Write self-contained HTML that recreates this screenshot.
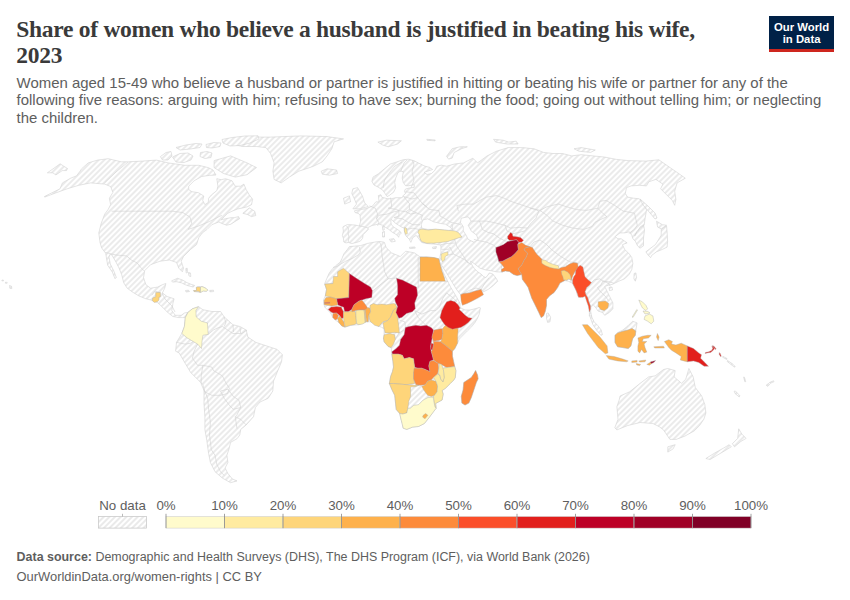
<!DOCTYPE html>
<html><head><meta charset="utf-8">
<style>
html,body{margin:0;padding:0;background:#fff;}
body{width:850px;height:600px;position:relative;overflow:hidden;font-family:"Liberation Sans",sans-serif;}
.map{position:absolute;left:0;top:0;}
.title{position:absolute;left:17px;top:14px;font-family:"Liberation Serif",serif;font-weight:bold;font-size:23.5px;line-height:26.6px;color:#3d3d3d;margin:0;width:700px;}
.sub{position:absolute;left:16.5px;top:73px;font-size:14.6px;line-height:17.4px;color:#5e5e5e;width:820px;}
.logo{position:absolute;left:769px;top:16px;width:65px;height:36px;background:#002147;color:#fff;text-align:center;font-weight:bold;font-size:11.4px;line-height:12px;}
.logo .t{position:absolute;left:0;right:0;top:5.5px;}
.logo .r{position:absolute;left:0;right:0;bottom:0;height:3px;background:#ce261e;}
.leg{position:absolute;font-size:13px;color:#5e5e5e;}
.foot{position:absolute;left:16.5px;font-size:12.6px;color:#5e5e5e;}
</style></head><body>
<svg class="map" width="850" height="600" viewBox="0 0 850 600">
<defs><pattern id="hatch" patternUnits="userSpaceOnUse" width="4" height="4" patternTransform="rotate(-45 2 2)"><rect width="4" height="4" fill="#fff"/><path d="M -1,2 l 6,0" stroke="#d9d9d9" stroke-width="1.05"/></pattern></defs>
<g fill="url(#hatch)" stroke="#d2d2d2" stroke-width="0.6" stroke-linejoin="round">
<path d="M81.6,168.8 L88.2,162.9 L97.6,160.1 L108.2,158.7 L121.2,161.8 L128.2,161.8 L142.4,161.1 L156.5,160.1 L168.2,162.9 L184.7,165.3 L198.8,165.3 L208.2,167.6 L213.0,170.0 L216.0,175.0 L209.2,175.4 L201.7,176.5 L194.1,180.8 L188.7,186.2 L188.7,189.5 L191.9,191.7 L198.4,192.7 L203.8,196.0 L202.7,200.3 L204.9,204.7 L208.2,202.5 L208.7,198.2 L211.4,194.9 L216.8,190.6 L217.9,186.2 L216.8,178.7 L221.2,179.7 L225.5,178.7 L232.0,180.8 L235.2,186.2 L240.7,186.2 L243.9,184.1 L246.1,189.5 L249.3,194.9 L252.6,199.2 L251.5,204.7 L247.2,206.8 L242.8,207.9 L237.4,209.0 L232.0,211.2 L227.7,213.3 L224.4,216.6 L221.2,219.8 L225.5,218.7 L230.9,217.7 L234.2,217.7 L238.5,216.6 L239.6,218.7 L235.0,221.5 L230.9,224.2 L226.6,225.2 L222.0,223.5 L218.8,222.0 L211.8,224.7 L207.1,229.4 L202.4,232.9 L198.8,237.6 L196.5,244.7 L190.6,249.4 L183.5,256.5 L181.2,261.2 L183.5,268.2 L182.4,271.8 L178.8,268.2 L176.5,262.4 L169.4,260.0 L160.0,261.2 L150.6,264.7 L144.7,270.6 L143.5,277.6 L145.9,284.7 L150.6,288.2 L157.6,287.1 L162.4,284.7 L165.9,283.5 L164.7,288.2 L162.4,292.9 L167.1,296.5 L174.1,298.8 L172.9,303.5 L171.8,310.6 L175.3,315.3 L181.2,315.3 L184.7,312.9 L187.9,312.4 L185.3,317.6 L182.6,317.6 L178.8,317.6 L172.9,316.5 L168.2,312.9 L162.4,307.1 L157.7,302.7 L151.0,300.0 L145.7,298.7 L139.0,296.0 L132.4,292.0 L127.0,288.0 L123.7,282.7 L121.7,274.7 L119.0,268.0 L116.3,262.7 L111.7,254.7 L109.7,254.7 L109.0,257.3 L110.3,264.0 L113.7,270.7 L116.3,277.4 L115.0,278.7 L112.3,272.0 L107.7,265.3 L105.7,253.3 L101.7,248.0 L100.0,242.4 L98.8,232.9 L101.2,223.5 L104.7,214.1 L108.2,209.4 L110.6,204.7 L109.4,198.2 L112.9,192.4 L110.6,186.5 L104.7,184.1 L90.6,182.9 L78.8,185.3 L67.1,188.8 L55.3,193.1 L44.7,197.1 L44.5,196.5 L60.0,188.8 L62.4,182.9 L70.6,178.2 L76.5,175.9 L80.0,171.2Z"/>
<path d="M225.9,140.6 L247.1,137.1 L270.6,137.1 L301.2,135.9 L327.1,136.6 L343.5,138.9 L334.1,141.8 L331.8,148.8 L327.1,155.9 L322.4,161.8 L312.9,166.5 L298.8,171.2 L289.4,177.1 L281.2,182.9 L274.1,179.4 L272.9,171.2 L274.1,162.9 L270.6,153.5 L265.9,147.6 L256.5,146.5 L242.4,146.5 L232.9,144.1Z"/>
<path d="M321.2,171.2 L327.1,168.8 L336.5,170.0 L337.6,173.5 L329.4,175.2 L322.4,174.2Z"/>
<path d="M214.1,160.6 L230.6,155.9 L247.1,162.9 L256.5,167.6 L247.1,174.7 L235.3,177.1 L223.5,173.5 L214.1,167.6Z"/>
<path d="M242.8,213.3 L249.3,207.9 L254.7,211.2 L255.8,215.5 L251.5,216.6 L247.2,214.4Z"/>
<path d="M171.7,280.8 L177.5,278.3 L182.5,280.0 L186.7,282.5 L190.8,284.2 L194.6,285.4 L193.3,287.1 L188.3,285.8 L185.0,284.6 L181.7,282.9 L176.7,281.7 L172.5,282.1Z"/>
<path d="M198.5,306.7 L202.9,309.7 L211.8,311.5 L220.6,311.5 L224.1,316.8 L232.9,324.7 L240.0,326.5 L246.2,330.0 L247.9,337.1 L255.9,342.4 L266.5,345.9 L277.1,349.4 L282.4,354.7 L281.5,361.8 L277.1,372.4 L273.5,381.2 L272.8,391.0 L268.2,398.3 L260.0,402.0 L255.4,407.5 L253.5,416.7 L246.2,424.9 L240.7,429.5 L239.8,435.0 L237.0,438.7 L230.6,442.4 L228.8,449.7 L226.9,455.2 L227.9,462.5 L225.1,468.0 L227.9,473.5 L232.4,479.0 L237.0,480.9 L230.6,482.7 L222.4,478.1 L215.0,471.7 L210.4,462.5 L208.6,453.4 L206.8,440.5 L204.9,429.5 L204.9,416.7 L204.0,403.8 L204.0,389.2 L202.9,384.7 L197.6,379.4 L190.6,372.4 L185.3,363.5 L179.1,352.9 L175.6,351.2 L176.5,342.4 L181.8,333.5 L184.4,326.5 L185.3,317.6 L187.9,312.4 L192.4,308.8Z"/>
<path d="M193.5,290.6 L196.6,290.4 L196.3,287.4 L197.7,286.9 L201.9,286.5 L204.1,287.4 L206.2,288.5 L207.8,290.2 L206.2,291.3 L203.4,290.9 L200.5,292.4 L194.2,291.6Z"/>
<path d="M343.5,198.2 L349.4,195.9 L350.6,201.8 L344.7,204.1Z"/>
<path d="M352.9,188.8 L357.6,187.6 L362.4,195.9 L364.7,202.9 L368.2,206.5 L360.0,208.8 L352.9,208.8 L356.5,204.1 L354.1,198.2 L351.8,193.5Z"/>
<path d="M351.2,243.4 L348.4,242.4 L346.1,242.9 L343.8,242.0 L343.4,238.3 L342.4,235.6 L343.4,231.0 L342.9,227.3 L343.4,226.4 L347.5,224.6 L354.8,225.0 L359.4,226.0 L360.6,221.2 L360.0,215.3 L358.5,213.5 L355.0,212.5 L354.5,210.8 L358.2,210.0 L365.3,208.8 L372.4,206.2 L375.9,201.8 L379.0,202.0 L378.4,195.5 L381.0,194.8 L382.0,197.5 L383.8,197.7 L387.1,198.7 L391.4,198.7 L395.7,197.7 L402.2,197.7 L403.3,195.5 L405.5,193.3 L404.4,191.2 L405.5,189.0 L409.8,187.9 L414.2,187.4 L414.2,184.7 L408.7,185.7 L405.5,185.7 L403.3,182.5 L402.2,178.2 L403.3,171.7 L400.5,171.0 L397.9,172.7 L395.7,178.2 L394.7,182.5 L395.7,187.9 L393.6,192.2 L389.2,195.5 L387.1,196.6 L384.9,193.3 L382.7,190.1 L378.0,187.0 L374.0,185.0 L371.9,181.4 L373.0,177.1 L378.4,173.8 L384.9,168.4 L390.3,164.1 L396.8,161.9 L403.3,159.7 L408.7,159.2 L414.2,160.8 L418.5,163.0 L425.0,166.2 L429.3,167.3 L432.6,169.5 L428.0,171.0 L424.0,172.5 L427.1,174.5 L431.5,173.5 L434.7,170.6 L436.9,166.2 L441.2,165.2 L446.6,166.2 L454.1,164.1 L463.5,162.9 L472.9,158.2 L477.6,162.9 L487.1,155.9 L496.5,151.2 L508.2,147.6 L522.4,147.6 L534.1,148.8 L543.5,152.4 L552.9,153.5 L562.4,153.5 L571.8,155.9 L581.2,154.7 L592.9,155.9 L604.7,157.1 L616.5,159.4 L628.2,160.6 L645.9,161.1 L658.8,159.8 L671.8,168.8 L677.1,172.4 L685.3,178.2 L677.1,182.9 L674.7,191.2 L675.9,199.4 L674.7,205.3 L672.4,200.6 L665.3,193.5 L660.6,188.8 L662.9,184.1 L659.4,181.8 L655.9,179.4 L648.8,181.8 L646.5,185.9 L639.4,185.3 L631.2,185.9 L626.5,187.6 L625.3,193.5 L627.6,197.1 L633.5,198.2 L639.4,198.8 L644.1,204.1 L646.5,210.0 L645.3,217.1 L644.1,225.3 L640.6,227.6 L637.1,231.2 L634.7,235.9 L636.0,233.0 L637.6,231.8 L640.0,227.1 L643.5,224.7 L644.5,230.0 L643.5,238.0 L643.5,245.9 L640.0,248.2 L637.6,245.9 L635.3,241.2 L632.9,238.8 L631.8,235.3 L629.4,231.8 L624.7,232.9 L620.0,232.9 L615.3,236.5 L617.6,238.8 L621.2,238.8 L624.7,241.2 L627.1,242.9 L622.4,244.7 L624.7,249.4 L629.4,254.1 L631.8,257.6 L632.9,263.5 L631.8,269.4 L629.4,274.1 L624.7,278.8 L618.8,281.2 L612.9,284.1 L608.2,285.3 L604.7,286.5 L609.4,295.9 L612.9,302.9 L612.9,308.8 L609.4,312.4 L604.7,315.3 L602.4,312.4 L598.0,311.0 L596.0,308.0 L593.0,304.5 L591.0,307.6 L590.6,311.0 L591.8,317.1 L594.1,321.8 L597.6,325.3 L601.2,330.0 L602.4,334.7 L600.9,335.3 L596.5,330.0 L592.9,324.7 L589.4,315.0 L589.4,310.0 L590.0,305.0 L588.2,300.0 L586.0,293.0 L584.7,291.8 L585.9,288.2 L580.6,297.6 L577.6,295.9 L576.5,291.2 L574.1,286.5 L572.4,282.9 L571.8,282.9 L568.2,281.2 L564.7,280.6 L560.0,282.9 L557.6,287.6 L554.1,292.4 L549.4,295.9 L546.5,299.4 L546.5,305.3 L545.3,311.2 L543.5,315.9 L541.2,317.6 L538.8,312.4 L535.3,305.3 L531.8,298.2 L529.4,291.2 L528.2,287.6 L525.9,284.1 L522.4,279.4 L521.8,274.4 L517.1,275.6 L513.5,274.4 L509.4,271.5 L505.3,270.9 L501.8,272.1 L496.5,271.8 L490.6,270.6 L485.9,270.0 L480.0,268.2 L474.1,263.5 L470.6,261.2 L471.8,264.7 L474.1,268.2 L477.6,271.8 L481.2,274.1 L483.5,276.5 L485.9,277.6 L487.6,275.3 L489.4,272.9 L492.9,274.1 L496.5,278.8 L497.6,281.2 L492.9,285.9 L488.2,289.4 L483.5,291.8 L481.2,289.4 L476.0,291.0 L469.4,292.9 L463.5,293.5 L460.6,294.7 L456.5,289.4 L452.9,283.5 L449.4,277.6 L445.9,271.8 L441.2,264.7 L439.4,261.2 L440.0,256.5 L440.9,252.9 L440.9,245.0 L433.8,244.1 L426.0,243.5 L421.5,242.4 L416.2,235.3 L412.6,237.9 L410.9,242.4 L409.3,239.3 L406.0,236.0 L405.3,234.7 L404.0,228.0 L402.0,227.3 L398.7,225.3 L394.7,222.7 L392.0,219.8 L391.0,219.8 L390.7,220.5 L391.3,224.7 L394.0,227.3 L397.3,229.3 L400.0,231.3 L401.3,233.3 L399.3,234.7 L398.7,237.3 L398.0,236.0 L395.3,234.0 L392.0,232.0 L388.7,229.3 L385.3,227.3 L382.7,225.3 L378.7,224.0 L375.6,224.7 L372.0,225.5 L369.0,227.0 L367.6,227.8 L368.6,229.2 L365.8,231.9 L363.1,234.7 L362.6,238.3 L360.3,241.1 L356.7,242.4 L352.0,243.5Z"/>
<path d="M389.3,239.3 L394.0,238.7 L395.3,241.3 L391.3,242.0Z"/>
<path d="M382.5,232.0 L384.5,231.5 L384.5,237.0 L382.5,237.0Z"/>
<path d="M640.0,199.0 L648.0,206.0 L655.0,213.0 L657.0,218.0 L655.0,219.0 L650.0,213.0 L643.0,205.0Z"/>
<path d="M645.9,251.8 L650.6,248.2 L655.3,244.7 L657.6,241.2 L661.2,235.3 L661.2,229.4 L664.7,227.1 L666.5,225.9 L667.1,231.8 L667.6,241.2 L667.1,247.1 L662.4,249.4 L656.5,251.8 L651.8,255.3 L650.6,257.6 L648.2,255.3Z"/>
<path d="M656.5,221.2 L662.4,224.7 L666.5,225.3 L661.2,228.8 L657.6,227.1Z"/>
<path d="M634.1,273.5 L635.9,272.9 L636.5,277.6 L635.3,281.2 L633.9,278.8Z"/>
<path d="M609.0,287.5 L612.0,287.0 L612.5,290.0 L609.5,290.5Z"/>
<path d="M546.5,313.5 L548.2,312.9 L550.6,317.1 L550.0,321.8 L547.6,322.4 L546.5,318.2Z"/>
<path d="M446.6,156.2 L452.2,148.7 L459.8,146.8 L467.3,146.8 L461.6,148.7 L454.1,152.5 L452.2,158.1 L448.5,159.1Z"/>
<path d="M574.1,148.8 L581.2,147.6 L595.3,150.0 L590.6,152.4 L578.8,151.2Z"/>
<path d="M493.6,139.3 L503.1,140.2 L508.7,142.1 L516.2,141.2 L518.1,144.0 L506.8,144.0 L495.5,142.1Z"/>
<path d="M615.0,335.3 L617.6,332.6 L622.9,330.0 L628.2,325.6 L632.6,321.2 L637.1,322.9 L636.2,328.2 L635.3,335.3 L632.6,338.8 L630.9,345.9 L628.2,348.5 L622.9,347.6 L617.6,346.8 L615.0,342.4Z"/>
<path d="M620.1,396.0 L629.6,391.8 L640.2,383.3 L648.7,376.9 L655.1,375.9 L663.5,369.5 L667.8,368.5 L675.2,370.6 L674.1,376.9 L681.5,383.3 L685.8,379.1 L688.9,368.5 L693.2,376.9 L695.3,387.5 L701.7,396.0 L704.8,404.5 L705.9,412.9 L703.8,419.3 L699.5,425.6 L694.2,430.9 L684.7,436.2 L676.2,439.4 L669.9,439.4 L663.5,429.9 L659.3,426.7 L652.9,423.5 L640.2,422.5 L627.5,425.6 L616.9,429.9 L614.8,427.8 L618.0,419.3 L616.9,406.6 L619.1,400.2Z"/>
<path d="M667.8,446.8 L675.2,444.7 L673.1,448.9 L667.8,452.1Z"/>
<path d="M738.7,428.8 L741.9,434.1 L746.1,438.4 L740.8,441.5 L734.5,446.8 L732.4,443.7 L737.7,438.4Z"/>
<path d="M729.2,444.7 L731.3,446.8 L720.7,453.2 L710.1,459.5 L705.9,458.5 L714.4,453.2 L723.9,447.9Z"/>
<path d="M349.3,246.6 L354.8,246.1 L360.3,245.7 L367.6,243.4 L375.0,242.0 L379.6,241.5 L383.2,242.0 L384.4,242.4 L386.2,247.6 L391.5,252.9 L400.3,256.5 L405.6,251.2 L414.4,252.9 L420.0,256.8 L426.8,256.8 L434.1,257.6 L438.8,258.8 L435.3,261.8 L440.0,263.5 L443.5,272.9 L447.1,280.0 L450.6,287.1 L454.1,292.9 L457.6,298.8 L460.0,303.5 L460.0,307.5 L465.0,310.0 L470.0,310.0 L475.0,308.8 L479.2,307.5 L480.4,307.9 L480.0,310.0 L479.2,314.2 L477.5,318.3 L475.0,322.5 L471.7,326.7 L467.5,330.8 L463.3,335.0 L459.2,339.2 L457.6,342.9 L454.7,348.8 L452.4,351.2 L452.4,355.9 L453.5,361.2 L454.7,366.5 L455.9,370.6 L455.3,377.6 L453.8,380.0 L450.3,383.5 L445.6,388.2 L442.1,390.6 L443.2,394.1 L442.1,400.0 L435.6,403.5 L436.2,408.2 L432.6,412.9 L429.1,417.6 L424.4,423.5 L418.5,426.5 L412.6,427.1 L406.8,429.4 L403.2,428.2 L402.1,423.5 L400.9,418.8 L399.7,413.5 L396.2,409.4 L394.7,395.3 L391.8,389.4 L389.4,383.5 L390.6,376.5 L392.4,371.8 L393.5,367.1 L392.9,361.2 L391.8,353.5 L391.2,347.6 L388.2,346.5 L384.1,341.8 L383.5,338.2 L384.1,334.7 L384.1,328.8 L381.2,327.1 L377.6,325.9 L374.1,322.4 L370.6,321.8 L365.9,321.8 L358.8,324.7 L350.6,325.3 L344.7,327.1 L341.8,325.9 L338.8,322.4 L335.3,320.0 L332.9,317.6 L330.6,313.0 L328.2,310.6 L324.7,307.1 L324.1,304.7 L323.5,300.0 L325.3,295.9 L326.5,289.4 L324.7,284.1 L324.7,283.5 L329.2,273.1 L331.9,269.5 L335.6,265.8 L340.2,262.1 L342.0,258.5 L343.8,253.9 L347.5,249.3Z"/>
<path d="M475.6,370.6 L477.5,375.0 L478.1,378.8 L476.3,382.5 L473.8,390.0 L471.3,397.5 L468.8,403.1 L465.0,405.0 L461.9,403.1 L461.3,396.3 L463.1,390.0 L463.8,382.5 L467.5,380.0 L471.3,377.5 L473.8,373.8Z"/>
<path d="M47.4,172.8 L52.7,169.1 L60.1,163.8 L63.3,165.9 L67.5,168.5 L66.5,170.6 L62.2,170.6 L59.1,172.8 L55.9,174.9 L52.7,172.8Z"/>
<path d="M185.5,290.5 L188.5,290.2 L189.5,291.5 L186.0,292.0Z"/>
<path d="M209.7,290.4 L213.5,290.2 L213.6,291.6 L209.9,291.8Z"/>
<path d="M722.9,356.4 L727.0,358.5 L726.8,359.5 L722.7,357.3Z"/>
<path d="M727.5,360.5 L732.0,363.5 L735.2,366.5 L734.6,367.2 L731.0,364.5 L727.2,361.5Z"/>
<path d="M743.6,377.0 L744.4,377.2 L745.7,381.6 L744.9,381.9Z"/>
<path d="M734.2,391.2 L735.4,391.0 L739.9,395.8 L739.2,396.9 L735.0,393.5Z"/>
<path d="M766.3,385.0 L768.5,383.5 L769.6,384.6 L767.5,386.4Z"/>
<path d="M769.5,382.5 L773.6,380.8 L774.0,381.7 L770.0,383.4Z"/>
<path d="M9.5,285.5 L11.5,286.2 L11.8,288.6 L9.8,288.3Z"/>
<path d="M5.5,282.2 L7.2,282.4 L7.1,283.3 L5.4,283.2Z"/>
<path d="M2.0,280.0 L3.5,280.2 L3.4,281.0 L1.9,280.8Z"/>
<path d="M377.9,142.1 L386.4,140.2 L401.4,140.8 L397.6,144.0 L388.2,146.8 L382.6,145.0Z"/>
<path d="M426.8,139.3 L435.3,140.0 L435.0,140.8 L427.0,140.3Z"/>
<path d="M185.8,268.5 L187.2,268.3 L187.5,272.5 L186.2,273.0Z"/>
<path d="M188.5,272.5 L190.5,273.0 L190.8,276.5 L189.0,276.0Z"/>
<path d="M409.5,247.3 L415.0,247.0 L415.2,248.2 L409.6,248.4Z"/>
<path d="M432.5,247.2 L436.5,246.6 L436.0,248.5 L432.8,248.6Z"/>
<path d="M382.4,226.5 L383.9,226.0 L384.2,230.0 L382.8,230.3Z"/>
<path d="M160.4,156.6 L166.0,152.5 L171.0,151.5 L172.0,156.0 L168.0,160.0 L162.5,160.0Z"/>
<path d="M172.5,157.0 L180.0,153.5 L188.0,153.0 L193.0,156.0 L191.0,160.0 L184.0,162.5 L176.0,162.0Z"/>
<path d="M176.0,147.5 L186.0,145.0 L196.0,143.5 L202.0,144.0 L200.0,147.5 L190.0,149.0 L180.0,150.0Z"/>
<path d="M206.0,144.5 L214.0,142.5 L221.0,143.0 L220.0,146.5 L212.0,148.0 L206.5,147.5Z"/>
<path d="M222.0,139.5 L232.0,137.5 L245.0,136.0 L258.0,135.8 L259.0,139.0 L250.0,143.0 L240.0,145.5 L230.0,146.0 L223.0,143.0Z"/>
<path d="M200.5,152.5 L207.0,151.5 L212.0,153.0 L211.0,157.5 L205.0,158.5 L200.0,156.5Z"/>
</g>
<g fill="#fff" stroke="#d2d2d2" stroke-width="0.6">
<path d="M422.9,220.0 L427.6,218.8 L433.5,221.8 L440.6,223.5 L445.3,224.1 L450.0,227.1 L452.4,229.4 L448.8,230.6 L442.9,230.0 L435.9,229.4 L427.6,229.4 L421.8,228.2 L421.2,224.7Z"/>
<path d="M461.2,218.2 L468.2,216.8 L471.1,221.1 L468.2,225.3 L471.1,230.9 L476.7,235.2 L478.1,239.4 L473.9,242.2 L468.2,239.4 L466.1,235.2 L463.3,230.9 L463.3,226.7 L460.5,222.5Z"/>
</g>
<g fill="none" stroke="#d2d2d2" stroke-width="0.6">
<path d="M111.5,211.2 L135.3,211.2 L152.9,211.2 L172.4,211.2 L182.9,212.6 L190.0,217.1 L191.8,223.2 L188.2,229.4 L198.8,225.9 L209.4,221.5 L216.5,217.9 L221.8,215.3"/>
<path d="M127.9,162.1 L116.0,172.0 L104.6,182.8"/>
<path d="M105.3,252.4 L115.9,255.0 L126.5,255.9 L131.8,260.3 L137.1,262.9 L140.6,267.3 L144.1,270.9"/>
<path d="M151.8,295.3 L155.0,291.0 L160.0,292.9"/>
<path d="M162.0,293.0 L165.0,299.0 L168.0,302.0 L172.0,306.0 L175.0,312.0"/>
<path d="M208.2,334.4 L213.5,330.0 L217.0,328.2 L222.4,326.5 L227.6,330.0 L232.9,333.5 L241.8,333.5 L247.0,330.0"/>
<path d="M224.1,316.8 L225.9,322.9 L224.1,326.5"/>
<path d="M233.0,325.0 L233.5,332.0"/>
<path d="M240.0,327.0 L240.5,333.0"/>
<path d="M176.5,342.4 L185.3,344.1 L190.6,343.2 L193.2,341.5"/>
<path d="M197.6,344.1 L194.1,351.2 L192.4,358.2 L197.6,365.3 L202.9,365.3"/>
<path d="M202.9,365.3 L211.8,367.1 L213.5,370.6 L222.4,375.9 L225.9,382.9 L229.4,388.2 L227.6,393.5 L220.6,395.3 L211.8,395.3 L204.7,391.8 L201.2,384.0 L201.2,375.9 L202.9,365.3"/>
<path d="M204.0,389.2 L207.7,398.3 L208.6,409.3 L210.4,422.2 L209.5,435.0 L211.3,449.7 L215.0,455.2 L216.8,464.4 L220.5,471.7 L224.2,475.4"/>
<path d="M220.5,391.0 L227.9,389.2 L233.4,396.5 L238.9,400.2 L240.7,407.5 L233.4,409.3 L229.7,405.7 L224.2,398.3 L220.5,391.0"/>
<path d="M235.2,416.7 L240.7,419.4 L246.2,424.9"/>
<path d="M240.7,407.5 L237.0,414.8 L235.2,416.7 L237.0,428.6"/>
<path d="M359.4,226.0 L363.0,226.5 L367.6,227.8"/>
<path d="M346.5,226.0 L348.5,228.5 L348.0,233.0 L349.0,237.0 L348.2,242.2"/>
<path d="M369.4,205.9 L375.3,208.2 L377.6,214.1 L376.5,218.8 L378.8,222.4 L377.6,225.9"/>
<path d="M390.6,197.6 L391.8,207.1 L388.2,208.2"/>
<path d="M376.5,218.8 L378.8,215.3 L387.1,214.1 L394.1,211.8 L398.8,210.6 L405.9,211.8"/>
<path d="M388.2,208.2 L396.5,209.4 L398.8,210.6"/>
<path d="M403.5,196.5 L409.4,203.5 L409.4,209.4 L405.9,211.8"/>
<path d="M405.9,191.8 L414.1,192.9 L417.6,197.6 L422.4,203.5 L427.1,207.1"/>
<path d="M422.4,203.5 L429.4,209.4 L438.8,210.6 L440.0,216.0 L444.2,218.2"/>
<path d="M403.5,196.5 L412.0,199.0 L417.6,197.6"/>
<path d="M409.4,209.4 L416.5,212.9 L422.4,215.3 L421.2,220.0"/>
<path d="M405.9,211.8 L410.6,214.1 L416.5,212.9"/>
<path d="M394.1,217.6 L402.4,218.8 L408.2,222.4 L412.9,224.7 L420.0,224.7"/>
<path d="M398.8,210.6 L399.0,216.0 L394.1,217.6"/>
<path d="M405.9,229.4 L412.9,228.2 L418.8,229.4"/>
<path d="M383.0,188.0 L384.5,180.0 L390.0,172.0 L395.0,166.0 L402.0,162.0"/>
<path d="M400.6,171.8 L404.0,163.0 L407.0,160.0"/>
<path d="M411.2,187.6 L414.0,180.0 L412.0,172.0 L414.0,164.0 L412.0,160.0"/>
<path d="M444.2,218.2 L451.3,222.5 L458.4,223.9 L461.0,225.0"/>
<path d="M452.0,224.0 L452.5,229.5"/>
<path d="M359.4,247.0 L360.3,252.1 L358.5,254.8 L352.1,258.5 L345.7,261.2 L340.0,264.5 L337.1,266.5"/>
<path d="M337.1,266.5 L333.0,267.5"/>
<path d="M372.4,291.2 L381.2,284.1 L388.2,278.8"/>
<path d="M379.4,241.8 L381.2,245.3 L382.1,255.9 L384.7,271.8 L388.2,278.8 L397.1,277.9"/>
<path d="M418.2,256.8 L418.2,282.4 L418.2,287.6"/>
<path d="M414.7,310.6 L421.8,314.1 L430.6,310.6 L435.9,310.6 L439.4,307.1"/>
<path d="M439.4,307.1 L442.9,298.2 L446.5,292.9"/>
<path d="M445.3,281.2 L448.0,281.5"/>
<path d="M414.7,310.6 L418.2,317.6 L425.3,324.7"/>
<path d="M399.4,320.0 L405.0,322.0 L405.3,327.6"/>
<path d="M395.3,339.4 L399.0,333.0 L404.0,330.0"/>
<path d="M446.5,292.9 L453.5,298.2 L457.0,302.0"/>
<path d="M460.0,307.5 L461.0,309.0"/>
<path d="M332.9,283.5 L327.0,284.0"/>
<path d="M442.9,255.9 L453.5,254.1 L464.1,259.4 L471.2,264.7"/>
<path d="M441.4,249.3 L448.5,249.3 L450.0,247.1 L453.5,254.1"/>
<path d="M440.6,244.7 L447.0,243.5 L455.0,243.0"/>
<path d="M448.5,232.4 L454.1,238.0 L456.9,246.5 L462.6,254.9 L468.2,263.4"/>
<path d="M495.9,247.4 L496.5,252.9 L498.8,261.5 L501.2,263.8 L501.8,272.1"/>
<path d="M461.0,294.7 L470.0,290.0 L476.0,288.0 L481.2,289.4"/>
<path d="M481.2,289.4 L485.0,283.0 L489.0,278.0"/>
<path d="M458.4,211.2 L456.9,205.5 L465.4,204.1 L473.9,204.1 L480.9,199.9 L486.6,197.1 L496.5,195.6 L504.9,198.5 L510.6,201.3 L519.1,204.1 L527.5,206.9 L536.0,209.8 L538.8,211.2"/>
<path d="M538.8,211.2 L536.0,218.2 L530.4,223.9 L527.5,228.1"/>
<path d="M527.5,228.1 L519.1,227.4 L510.6,228.1 L504.9,225.3 L499.3,223.9 L493.6,222.5 L486.6,221.1 L479.5,221.1 L471.1,221.1"/>
<path d="M479.5,221.1 L482.4,229.5 L488.0,232.4 L493.6,233.8 L499.3,238.0 L504.9,240.8 L507.6,241.5"/>
<path d="M473.9,239.4 L479.5,240.8 L486.6,242.2 L493.6,245.1 L496.5,247.9"/>
<path d="M527.5,228.1 L524.7,230.9 L519.1,232.4 L512.4,233.8"/>
<path d="M504.9,225.3 L507.0,231.0 L510.6,232.6"/>
<path d="M539.9,210.4 L546.9,206.8 L558.2,204.0 L566.7,206.8 L576.6,209.6 L586.5,210.4 L597.8,208.2 L599.2,209.6 L603.4,213.9 L606.9,216.7 L600.6,219.5 L594.9,222.4 L592.1,226.6 L583.6,229.4 L572.4,228.0 L562.5,225.2 L552.6,220.9 L546.9,215.3 L539.9,210.4"/>
<path d="M597.8,208.2 L599.9,201.2 L606.2,200.5 L614.7,205.4 L623.2,211.1 L634.5,213.2 L635.9,219.5 L637.3,225.2 L634.5,229.4 L628.8,233.6"/>
<path d="M530.0,208.2 L537.1,209.6 L539.9,210.4"/>
<path d="M591.5,282.6 L594.3,279.9 L599.7,278.8 L602.9,281.0 L600.8,285.3 L597.5,287.5 L599.7,290.8 L602.9,294.0 L606.2,297.3 L608.3,300.5"/>
<path d="M602.9,281.0 L608.3,283.2 L610.5,286.4"/>
<path d="M602.9,281.0 L610.5,282.1 L613.8,283.2"/>
<path d="M588.8,315.7 L592.0,316.0"/>
<path d="M530.0,246.8 L534.0,242.0 L540.0,240.0 L546.0,244.0 L552.0,250.0 L560.0,256.0 L570.0,262.0 L576.9,262.6"/>
<path d="M566.0,266.0 L570.0,264.5"/>
<path d="M687.3,345.9 L687.3,361.8"/>
<path d="M617.6,333.0 L622.0,331.5 L628.0,330.0 L632.0,328.5 L635.8,331.0"/>
</g>
<g stroke="#aaa" stroke-width="0.4" stroke-linejoin="round">
<path fill="#fffbcc" d="M198.5,306.7 L195.9,310.6 L196.2,316.8 L201.2,321.2 L207.4,322.9 L207.9,329.1 L208.2,334.4 L202.9,335.3 L202.1,340.6 L201.5,348.5 L197.6,344.1 L193.2,341.5 L187.1,337.9 L181.8,333.5 L184.4,326.5 L185.3,317.6 L187.9,312.4 L192.4,308.8Z"/>
<path fill="#fed57a" d="M155.7,292.4 L160.4,292.4 L160.4,296.7 L158.8,297.4 L159.0,300.0 L157.7,301.6 L154.4,302.4 L152.4,300.7 L152.6,298.0 L154.8,297.1 L155.7,296.7Z"/>
<path fill="#fed57a" d="M193.5,290.6 L196.6,290.4 L196.3,287.4 L197.7,286.9 L200.5,287.2 L200.2,292.4 L198.4,291.3 L194.2,291.6Z"/>
<path fill="#ffeba0" d="M418.8,230.0 L421.5,229.1 L428.5,230.0 L435.6,229.1 L444.4,230.0 L455.0,230.9 L458.5,232.6 L462.0,237.1 L458.5,237.9 L453.2,239.7 L447.9,241.5 L440.9,242.4 L433.8,243.2 L426.8,243.2 L421.5,241.5 L419.7,237.9 L419.3,234.4 L417.9,232.6Z"/>
<path fill="#ffeba0" d="M404.7,227.4 L406.5,228.2 L407.4,233.5 L405.6,234.4 L404.3,230.9Z"/>
<path fill="#feb14c" d="M420.0,257.1 L427.1,257.1 L434.1,257.6 L438.8,258.8 L440.0,263.5 L441.8,270.6 L443.5,275.3 L445.3,281.2 L420.0,281.2Z"/>
<path fill="#ffeba0" d="M441.2,254.1 L443.5,252.9 L447.6,251.8 L448.2,254.7 L445.3,256.5 L444.7,260.0 L442.4,261.8 L441.2,258.8Z"/>
<path fill="#fd8b3b" d="M460.6,294.7 L463.5,293.5 L469.4,292.9 L474.1,291.2 L481.2,289.4 L483.5,294.7 L478.8,297.6 L471.8,301.2 L467.1,303.5 L462.4,305.3 L461.2,301.2Z"/>
<path fill="#fed57a" d="M337.6,271.8 L343.5,268.2 L349.4,273.5 L348.8,297.6 L336.5,298.8 L330.6,297.1 L325.3,295.9 L326.5,289.4 L324.7,284.1 L332.9,283.5 L333.5,276.5 L337.6,276.5Z"/>
<path fill="#bd0026" d="M349.4,273.5 L355.3,277.6 L364.7,283.5 L370.6,287.1 L372.4,290.6 L371.8,297.6 L365.9,298.8 L362.4,300.0 L358.8,301.2 L354.1,304.7 L351.8,309.4 L348.2,311.8 L344.7,311.8 L343.5,307.1 L341.2,306.5 L337.6,304.7 L336.5,298.8 L348.8,297.6Z"/>
<path fill="#feb14c" d="M324.1,300.6 L325.9,297.6 L330.6,297.1 L336.5,298.8 L337.6,304.7 L336.5,305.3 L331.8,305.9 L327.1,305.3 L324.1,304.7Z"/>
<path fill="#fb4e2a" d="M324.5,302.6 L330.0,302.2 L330.0,303.2 L324.5,303.6Z"/>
<path fill="#e21f1c" d="M328.2,309.4 L331.2,307.1 L336.5,306.5 L341.2,307.1 L343.5,311.8 L343.5,317.6 L341.8,318.8 L339.4,315.3 L336.5,312.9 L332.9,312.9 L330.6,311.8Z"/>
<path fill="#fd8b3b" d="M332.9,313.5 L336.5,312.9 L338.2,315.3 L337.6,318.8 L335.3,320.0 L332.9,317.6Z"/>
<path fill="#feb14c" d="M337.6,318.8 L339.4,315.9 L341.8,318.8 L344.1,322.4 L344.7,327.1 L341.8,325.9 L338.8,322.4Z"/>
<path fill="#fed57a" d="M343.5,311.8 L348.2,311.8 L351.8,310.6 L355.3,311.8 L355.9,315.3 L356.5,323.5 L354.1,324.7 L350.6,325.3 L345.3,327.1 L344.1,322.4 L343.5,317.6Z"/>
<path fill="#fd8b3b" d="M351.8,309.4 L354.1,304.7 L358.8,301.2 L361.8,300.0 L364.7,303.5 L367.1,307.1 L367.6,309.4 L364.7,310.0 L360.0,310.0 L355.9,310.6 L351.8,311.8Z"/>
<path fill="#ffeba0" d="M355.9,310.6 L360.0,310.0 L364.1,310.0 L364.7,314.1 L365.3,322.4 L362.4,324.1 L358.8,324.7 L356.5,323.5 L355.9,315.3Z"/>
<path fill="#fed57a" d="M364.1,310.0 L365.3,310.0 L365.9,321.2 L365.3,322.4Z"/>
<path fill="#feb14c" d="M365.3,310.0 L367.6,307.6 L370.0,308.2 L370.6,311.8 L368.8,315.3 L368.2,321.8 L366.5,321.8Z"/>
<path fill="#fed57a" d="M370.6,311.8 L370.0,305.3 L373.5,303.5 L377.1,304.7 L381.8,304.1 L386.5,304.7 L393.5,303.5 L395.3,304.1 L397.1,307.6 L393.5,310.0 L390.6,317.1 L387.6,320.6 L382.9,321.8 L378.8,326.5 L374.7,325.3 L370.0,321.2 L368.8,315.3Z"/>
<path fill="#fed57a" d="M393.5,310.0 L397.1,307.6 L398.2,311.8 L397.6,315.9 L398.2,321.8 L398.8,326.5 L399.4,332.9 L394.7,332.4 L390.0,332.9 L385.3,332.9 L384.1,328.8 L382.9,322.9 L387.6,320.6 L390.6,317.1Z"/>
<path fill="#bd0026" d="M396.5,278.2 L402.4,280.0 L409.4,283.5 L416.5,287.1 L417.1,290.0 L417.6,295.3 L416.5,298.2 L414.7,302.9 L415.3,308.8 L412.4,311.8 L406.5,313.5 L401.8,317.6 L398.8,318.2 L397.1,314.7 L395.9,312.4 L397.6,306.5 L395.3,301.8 L394.7,298.2 L397.6,294.7 L397.6,285.9 L397.1,281.8Z"/>
<path fill="#fed57a" d="M384.1,334.7 L390.0,333.5 L394.7,334.7 L395.3,339.4 L393.5,344.1 L391.2,347.6 L388.2,346.5 L384.1,341.8 L383.5,338.2Z"/>
<path fill="#bd0026" d="M405.3,327.6 L408.8,326.5 L415.9,325.3 L420.6,325.9 L426.5,325.3 L431.2,327.6 L433.5,330.0 L432.4,337.1 L431.2,342.9 L430.6,346.5 L431.2,351.2 L432.4,355.3 L433.5,360.0 L430.0,361.2 L428.8,365.9 L430.0,371.8 L427.6,370.6 L425.3,369.4 L421.8,368.2 L418.2,368.2 L414.7,367.6 L414.1,363.5 L413.5,358.8 L409.4,357.6 L406.5,358.2 L404.1,358.8 L402.4,355.3 L398.2,354.1 L392.4,354.1 L391.8,351.8 L395.9,348.8 L399.4,345.3 L400.6,339.4 L404.1,334.7Z"/>
<path fill="#fd8b3b" d="M434.1,330.0 L440.6,328.8 L442.4,328.8 L442.9,333.5 L441.8,339.4 L438.2,340.6 L433.5,341.2 L431.8,337.1 L432.9,333.5Z"/>
<path fill="#feb14c" d="M442.4,328.8 L445.3,325.3 L452.4,327.6 L458.2,328.2 L457.6,337.1 L457.6,342.9 L454.7,348.8 L452.4,351.2 L445.3,345.3 L440.6,341.8 L441.8,339.4 L442.9,333.5Z"/>
<path fill="#fd8b3b" d="M433.5,341.2 L440.6,341.8 L445.3,345.3 L452.4,351.2 L452.4,355.9 L453.5,361.2 L454.7,366.5 L446.5,367.6 L441.8,364.7 L438.2,363.5 L433.5,360.0 L432.4,355.3 L431.2,351.2 L432.4,350.0 L433.5,344.1Z"/>
<path fill="#e21f1c" d="M431.2,342.9 L433.5,344.1 L432.4,350.0 L430.6,349.4Z"/>
<path fill="#e21f1c" d="M440.0,317.5 L441.7,310.8 L444.2,305.8 L446.7,301.7 L450.8,300.4 L455.0,301.7 L458.3,305.0 L460.0,307.9 L459.2,309.6 L461.7,311.7 L465.0,315.0 L468.3,317.5 L472.1,318.3 L468.3,322.5 L465.0,325.0 L460.8,327.5 L456.7,328.3 L452.5,329.2 L448.3,327.5 L445.0,325.0 L442.5,321.7Z"/>
<path fill="#fed57a" d="M391.8,354.1 L398.2,354.1 L402.4,355.3 L404.1,358.8 L409.4,357.6 L413.5,358.8 L414.1,363.5 L414.7,367.6 L417.1,368.2 L413.5,372.9 L413.5,377.6 L414.7,383.5 L406.5,384.7 L399.4,384.1 L393.5,383.5 L389.4,383.5 L390.6,376.5 L392.4,371.8 L393.5,367.1 L392.9,361.2Z"/>
<path fill="#fed57a" d="M389.4,383.5 L393.5,383.5 L406.5,384.7 L414.7,385.3 L419.4,385.3 L415.9,386.5 L410.6,387.1 L410.6,396.5 L408.8,401.2 L407.9,408.2 L406.8,412.9 L402.6,414.1 L399.7,413.5 L396.2,409.4 L394.7,395.3 L391.8,389.4Z"/>
<path fill="#fd8b3b" d="M414.1,368.2 L421.8,368.2 L427.6,370.6 L430.0,371.8 L428.8,365.9 L430.0,361.2 L433.5,360.6 L438.2,363.5 L438.8,368.2 L437.6,374.1 L433.5,377.6 L431.2,380.0 L427.6,381.2 L425.3,384.7 L420.6,385.3 L415.9,384.7 L413.5,378.8 L413.5,372.9Z"/>
<path fill="#feb14c" d="M421.8,386.5 L425.3,384.7 L427.6,381.2 L431.2,380.0 L435.9,381.2 L437.6,385.9 L437.1,391.8 L434.7,395.3 L431.2,396.5 L427.6,395.3 L424.1,390.6Z"/>
<path fill="#ffeba0" d="M441.8,368.2 L446.5,367.6 L454.7,366.5 L455.9,370.6 L455.3,377.6 L453.8,380.0 L450.3,383.5 L445.6,388.2 L442.1,390.6 L443.2,394.1 L442.1,400.0 L435.6,403.5 L436.2,408.2 L435.0,407.1 L434.1,402.4 L433.5,396.5 L437.1,391.8 L437.6,385.9 L435.9,381.2 L433.5,377.6 L437.6,374.1 L440.0,375.3 L440.6,378.8 L442.9,381.8 L444.1,377.6 L443.5,370.6Z"/>
<path fill="#ffeba0" d="M439.4,363.5 L441.8,364.7 L443.5,370.6 L444.1,377.6 L442.9,381.8 L440.6,378.8 L440.0,375.3 L438.2,374.1 L438.8,368.2Z"/>
<path fill="#fffbcc" d="M399.7,413.5 L402.6,414.1 L406.8,412.9 L407.9,408.2 L410.3,408.2 L413.8,405.3 L418.5,404.7 L423.2,400.0 L427.9,397.6 L433.2,397.1 L433.8,401.2 L435.0,407.1 L436.2,408.2 L432.6,412.9 L429.1,417.6 L424.4,423.5 L418.5,426.5 L412.6,427.1 L406.8,429.4 L403.2,428.2 L402.1,423.5 L400.9,418.8Z"/>
<path fill="#feb14c" d="M423.2,415.3 L425.6,413.5 L427.9,415.3 L425.0,418.8 L422.6,417.1Z"/>
<path fill="#fd8b3b" d="M475.6,370.6 L477.5,375.0 L478.1,378.8 L476.3,382.5 L473.8,390.0 L471.3,397.5 L468.8,403.1 L465.0,405.0 L461.9,403.1 L461.3,396.3 L463.1,390.0 L463.8,382.5 L467.5,380.0 L471.3,377.5 L473.8,373.8Z"/>
<path fill="#e21f1c" d="M507.6,236.2 L510.6,232.6 L512.4,233.8 L512.9,236.2 L517.1,236.8 L520.6,237.4 L523.5,240.3 L521.8,242.1 L518.8,242.6 L516.5,239.7 L513.5,240.3 L509.4,240.3 L507.6,238.5Z"/>
<path fill="#fd8b3b" d="M498.8,261.5 L502.9,260.9 L507.6,258.5 L511.2,256.8 L514.7,253.8 L518.2,249.7 L517.6,244.4 L521.8,242.6 L525.3,245.0 L530.0,246.8 L525.3,247.9 L524.1,249.7 L527.6,253.2 L526.5,256.8 L524.1,260.3 L521.8,265.0 L518.2,268.5 L520.0,272.1 L521.8,274.4 L517.1,275.6 L513.5,274.4 L509.4,271.5 L505.3,270.9 L501.8,272.1 L501.2,269.7 L504.1,267.4 L501.2,263.8Z"/>
<path fill="#a00026" d="M495.9,247.4 L499.4,246.2 L503.5,244.4 L507.6,241.5 L513.5,240.3 L516.5,239.7 L518.8,242.6 L517.6,244.4 L518.2,249.7 L514.7,253.8 L511.2,256.8 L507.6,258.5 L502.9,260.9 L498.8,261.5 L497.6,256.8 L495.9,252.1Z"/>
<path fill="#fd8b3b" d="M530.0,246.8 L532.4,247.4 L535.3,252.1 L537.1,254.4 L541.8,259.1 L542.9,262.6 L547.6,265.0 L553.5,267.4 L559.4,268.5 L561.2,267.4 L565.3,266.8 L570.0,263.8 L573.5,262.6 L577.6,263.2 L578.2,267.4 L574.7,272.1 L572.9,275.6 L571.2,280.3 L570.6,276.8 L568.2,275.6 L565.3,276.8 L564.7,280.6 L560.0,282.9 L557.6,287.6 L554.1,292.4 L549.4,295.9 L546.5,299.4 L546.5,305.3 L545.3,311.2 L543.5,315.9 L541.2,317.6 L538.8,312.4 L535.3,305.3 L531.8,298.2 L529.4,291.2 L528.2,287.6 L525.9,284.1 L522.4,279.4 L521.8,274.4 L520.0,272.1 L518.2,268.5 L521.8,265.0 L524.1,260.3 L526.5,256.8 L527.6,253.2 L524.1,249.7 L525.3,247.9Z"/>
<path fill="#ffeba0" d="M541.8,259.7 L545.3,260.3 L548.8,262.6 L553.5,264.4 L558.2,265.6 L559.4,269.1 L554.7,268.5 L550.0,267.4 L545.3,265.6 L541.8,263.2Z"/>
<path fill="#fed57a" d="M561.2,270.9 L564.1,270.3 L567.6,272.1 L570.0,274.4 L570.6,276.8 L571.2,280.3 L568.8,279.1 L566.5,280.3 L563.5,279.7 L562.9,276.8 L561.8,274.4Z"/>
<path fill="#fb4e2a" d="M580.2,265.3 L582.9,266.9 L584.0,272.3 L585.0,276.7 L588.3,279.9 L591.5,282.6 L589.4,285.3 L586.7,287.5 L585.0,291.8 L586.1,295.1 L587.8,297.8 L588.8,301.6 L590.5,305.9 L590.5,309.2 L589.4,311.9 L588.3,305.9 L586.7,301.6 L585.0,296.2 L582.9,297.3 L578.5,297.3 L577.5,294.0 L575.8,289.7 L574.2,286.4 L572.6,283.2 L572.6,279.9 L573.7,276.7 L575.3,274.5 L575.8,270.2 L578.0,266.9Z"/>
<path fill="#feb14c" d="M598.2,301.8 L605.3,300.9 L608.8,303.5 L607.9,307.9 L604.4,310.6 L600.9,309.7 L598.2,306.2Z"/>
<path fill="#feb14c" d="M582.4,324.7 L587.6,324.7 L592.9,330.0 L600.0,337.1 L607.1,345.9 L607.9,352.9 L605.3,353.8 L598.2,347.6 L592.9,340.6 L587.6,333.5Z"/>
<path fill="#feb14c" d="M606.2,355.6 L614.1,356.5 L622.9,359.1 L628.2,360.9 L626.5,361.8 L617.6,360.9 L608.8,359.1Z"/>
<path fill="#feb14c" d="M631.8,360.9 L637.1,360.4 L637.1,362.1 L631.8,362.6Z"/>
<path fill="#feb14c" d="M638.8,360.9 L645.9,360.0 L645.0,361.8 L639.7,362.1Z"/>
<path fill="#feb14c" d="M636.2,363.5 L640.6,364.4 L639.7,365.6 L636.7,364.9Z"/>
<path fill="#feb14c" d="M646.8,364.4 L651.2,361.8 L652.9,362.6 L649.4,365.3Z"/>
<path fill="#a00026" d="M650.3,362.1 L655.6,360.4 L653.8,362.6 L651.2,363.5Z"/>
<path fill="#feb14c" d="M615.0,335.3 L617.6,333.0 L622.0,331.5 L628.0,330.0 L632.0,328.5 L635.8,331.0 L635.3,335.3 L632.6,338.8 L630.9,345.9 L628.2,348.5 L622.9,347.6 L617.6,346.8 L615.0,342.4Z"/>
<path fill="#feb14c" d="M637.9,337.9 L642.4,336.2 L647.6,335.3 L651.2,335.3 L648.5,337.9 L643.2,338.8 L642.4,341.5 L646.8,341.5 L644.1,344.1 L645.0,347.6 L646.8,352.1 L644.1,352.9 L641.5,349.4 L639.7,352.9 L637.9,351.2 L637.9,345.9 L638.8,342.4Z"/>
<path fill="#feb14c" d="M657.4,333.5 L659.1,337.1 L658.2,340.6 L656.5,337.1Z"/>
<path fill="#feb14c" d="M653.8,346.8 L663.5,346.2 L664.4,348.0 L654.7,348.0Z"/>
<path fill="#feb14c" d="M664.4,341.5 L668.8,339.7 L672.4,341.5 L671.5,344.1 L675.9,345.0 L681.2,343.2 L687.3,345.9 L687.3,361.8 L683.8,360.9 L680.3,360.0 L681.2,356.5 L675.9,352.9 L671.5,350.3 L668.8,347.6 L667.0,345.0Z"/>
<path fill="#e21f1c" d="M687.3,345.9 L693.5,348.5 L698.8,352.9 L701.5,354.7 L700.6,358.2 L704.1,361.8 L708.5,366.2 L704.1,366.2 L698.8,362.6 L693.5,360.9 L687.3,361.8Z"/>
<path fill="#e21f1c" d="M705.1,353.6 L708.0,352.8 L710.7,352.4 L713.2,350.3 L714.5,348.8 L713.5,346.8 L711.8,346.0 L712.8,348.6 L711.5,350.4 L708.8,351.8 L705.4,352.5Z"/>
<path fill="#e21f1c" d="M712.5,345.6 L714.0,346.2 L716.2,349.0 L715.5,349.6 L713.8,347.4Z"/>
<path fill="#fffbcc" d="M638.8,300.0 L642.4,301.8 L645.9,305.3 L647.6,308.8 L645.9,310.6 L642.4,307.9 L640.6,304.4Z"/>
<path fill="#fffbcc" d="M645.0,315.9 L649.4,314.1 L652.9,315.9 L653.8,321.2 L651.2,323.8 L647.6,321.2 L644.1,319.4Z"/>
<path fill="#fffbcc" d="M643.0,311.0 L648.0,311.5 L650.0,313.0 L645.0,314.0Z"/>
<path fill="#fffbcc" d="M632.2,317.0 L636.8,309.5 L637.5,310.0 L633.0,317.5Z"/>
<path fill="#fffbcc" d="M200.5,287.2 L201.9,286.5 L204.1,287.4 L206.2,288.5 L207.8,290.2 L206.2,291.3 L203.4,290.9 L200.5,292.4Z"/>
<path fill="#e21f1c" d="M719.2,352.6 L720.2,353.4 L721.3,356.2 L720.5,356.6 L719.3,354.5Z"/>
</g>
</svg>
<svg class="map" width="850" height="600" viewBox="0 0 850 600">
<text x="16.2" y="36.5" font-family="Liberation Serif" font-weight="bold" font-size="23.5" letter-spacing="-0.27" fill="#3a3a3a">Share of women who believe a husband is justified in beating his wife,</text>
<text x="16.2" y="63" font-family="Liberation Serif" font-weight="bold" font-size="23.5" letter-spacing="-0.27" fill="#3a3a3a">2023</text>
<g font-family="Liberation Sans" font-size="14.95" fill="#5e5e5e">
<text x="16.6" y="87.8">Women aged 15-49 who believe a husband or partner is justified in hitting or beating his wife or partner for any of the</text>
<text x="16.6" y="105.4">following five reasons: arguing with him; refusing to have sex; burning the food; going out without telling him; or neglecting</text>
<text x="16.6" y="123">the children.</text>
</g>
<g font-family="Liberation Sans" fill="#5e5e5e">
<text x="16.6" y="561.1" font-size="12.45"><tspan font-weight="bold">Data source:</tspan> Demographic and Health Surveys (DHS), The DHS Program (ICF), via World Bank (2026)</text>
<text x="16.6" y="580.9" font-size="12.9">OurWorldinData.org/women-rights | CC BY</text>
</g>
</svg>
<div class="logo"><div class="r"></div></div>
<svg class="map" width="850" height="600" viewBox="0 0 850 600"><g font-family="Liberation Sans" font-weight="bold" font-size="11.33" fill="#fff" text-anchor="middle"><text x="801.6" y="30.5">Our World</text><text x="801.6" y="42.5">in Data</text></g></svg>
<svg class="map" width="850" height="600" viewBox="0 0 850 600" style="pointer-events:none">
<defs><pattern id="hatch2" patternUnits="userSpaceOnUse" width="4" height="4" patternTransform="rotate(-45 2 2)"><rect width="4" height="4" fill="#fff"/><path d="M -1,2 l 6,0" stroke="#d8d8d8" stroke-width="1.05"/></pattern></defs>
<rect x="98.5" y="516.6" width="48" height="11.5" fill="url(#hatch2)" stroke="#c4c4c4" stroke-width="0.7"/>
<line x1="122.5" y1="516.6" x2="122.5" y2="513.8000000000001" stroke="#aaa" stroke-width="0.8"/>
<text x="122.5" y="509.9" text-anchor="middle" font-family="Liberation Sans" font-size="13.3" fill="#5e5e5e">No data</text>
<rect x="166.0" y="516.6" width="58.5" height="11.5" fill="#fffbcc" stroke="#c8c8c8" stroke-width="0.5"/>
<rect x="224.5" y="516.6" width="58.5" height="11.5" fill="#ffeba0" stroke="#c8c8c8" stroke-width="0.5"/>
<rect x="283.0" y="516.6" width="58.5" height="11.5" fill="#fed57a" stroke="#c8c8c8" stroke-width="0.5"/>
<rect x="341.5" y="516.6" width="58.5" height="11.5" fill="#feb14c" stroke="#c8c8c8" stroke-width="0.5"/>
<rect x="400.0" y="516.6" width="58.5" height="11.5" fill="#fd8b3b" stroke="#c8c8c8" stroke-width="0.5"/>
<rect x="458.5" y="516.6" width="58.5" height="11.5" fill="#fb4e2a" stroke="#c8c8c8" stroke-width="0.5"/>
<rect x="517.0" y="516.6" width="58.5" height="11.5" fill="#e21f1c" stroke="#c8c8c8" stroke-width="0.5"/>
<rect x="575.5" y="516.6" width="58.5" height="11.5" fill="#bd0026" stroke="#c8c8c8" stroke-width="0.5"/>
<rect x="634.0" y="516.6" width="58.5" height="11.5" fill="#a00026" stroke="#c8c8c8" stroke-width="0.5"/>
<rect x="692.5" y="516.6" width="58.5" height="11.5" fill="#800026" stroke="#c8c8c8" stroke-width="0.5"/>
<line x1="166.0" y1="513.8000000000001" x2="166.0" y2="528.1" stroke="#8a8a8a" stroke-width="0.8"/>
<text x="166.0" y="509.9" text-anchor="middle" font-family="Liberation Sans" font-size="13.3" fill="#5e5e5e">0%</text>
<line x1="224.5" y1="513.8000000000001" x2="224.5" y2="528.1" stroke="#8a8a8a" stroke-width="0.8"/>
<text x="224.5" y="509.9" text-anchor="middle" font-family="Liberation Sans" font-size="13.3" fill="#5e5e5e">10%</text>
<line x1="283.0" y1="513.8000000000001" x2="283.0" y2="528.1" stroke="#8a8a8a" stroke-width="0.8"/>
<text x="283.0" y="509.9" text-anchor="middle" font-family="Liberation Sans" font-size="13.3" fill="#5e5e5e">20%</text>
<line x1="341.5" y1="513.8000000000001" x2="341.5" y2="528.1" stroke="#8a8a8a" stroke-width="0.8"/>
<text x="341.5" y="509.9" text-anchor="middle" font-family="Liberation Sans" font-size="13.3" fill="#5e5e5e">30%</text>
<line x1="400.0" y1="513.8000000000001" x2="400.0" y2="528.1" stroke="#8a8a8a" stroke-width="0.8"/>
<text x="400.0" y="509.9" text-anchor="middle" font-family="Liberation Sans" font-size="13.3" fill="#5e5e5e">40%</text>
<line x1="458.5" y1="513.8000000000001" x2="458.5" y2="528.1" stroke="#8a8a8a" stroke-width="0.8"/>
<text x="458.5" y="509.9" text-anchor="middle" font-family="Liberation Sans" font-size="13.3" fill="#5e5e5e">50%</text>
<line x1="517.0" y1="513.8000000000001" x2="517.0" y2="528.1" stroke="#8a8a8a" stroke-width="0.8"/>
<text x="517.0" y="509.9" text-anchor="middle" font-family="Liberation Sans" font-size="13.3" fill="#5e5e5e">60%</text>
<line x1="575.5" y1="513.8000000000001" x2="575.5" y2="528.1" stroke="#8a8a8a" stroke-width="0.8"/>
<text x="575.5" y="509.9" text-anchor="middle" font-family="Liberation Sans" font-size="13.3" fill="#5e5e5e">70%</text>
<line x1="634.0" y1="513.8000000000001" x2="634.0" y2="528.1" stroke="#8a8a8a" stroke-width="0.8"/>
<text x="634.0" y="509.9" text-anchor="middle" font-family="Liberation Sans" font-size="13.3" fill="#5e5e5e">80%</text>
<line x1="692.5" y1="513.8000000000001" x2="692.5" y2="528.1" stroke="#8a8a8a" stroke-width="0.8"/>
<text x="692.5" y="509.9" text-anchor="middle" font-family="Liberation Sans" font-size="13.3" fill="#5e5e5e">90%</text>
<line x1="751.0" y1="513.8000000000001" x2="751.0" y2="528.1" stroke="#8a8a8a" stroke-width="0.8"/>
<text x="751.0" y="509.9" text-anchor="middle" font-family="Liberation Sans" font-size="13.3" fill="#5e5e5e">100%</text>
</svg>
</body></html>
